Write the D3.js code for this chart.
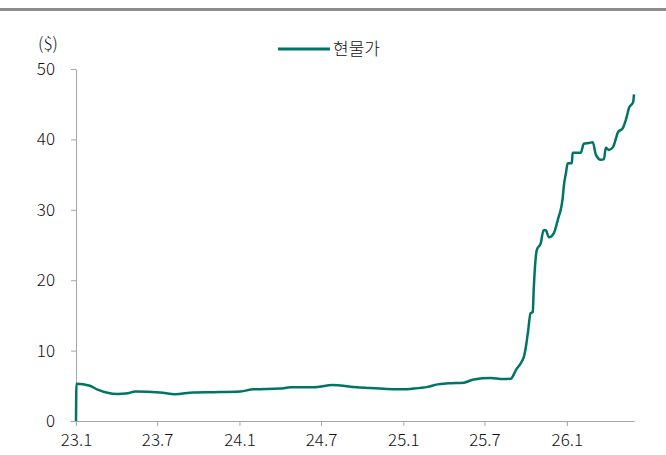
<!DOCTYPE html>
<html>
<head>
<meta charset="utf-8">
<script src="https://cdn.jsdelivr.net/npm/d3@7"></script>
<style>
  body { margin: 0; background: #fff; }
  svg text { font-family: 'Noto Sans CJK KR', 'Noto Sans', sans-serif; font-weight: 300; fill: #111; }
</style>
</head>
<body>
<svg width="666" height="455"></svg>
<script>
// spot price readings (date, $)
const dates = [
  '2023-01-01', '2023-01-02', '2023-02-01', '2023-02-17', '2023-04-03', '2023-04-27',
  '2023-05-13', '2023-07-08', '2023-08-10', '2023-09-20', '2023-11-03', '2024-01-03',
  '2024-02-01', '2024-04-01', '2024-04-24', '2024-06-14', '2024-07-27', '2024-08-20',
  '2024-09-05', '2024-10-20', '2025-01-01', '2025-01-24', '2025-02-24', '2025-03-18',
  '2025-04-12', '2025-05-16', '2025-06-07', '2025-07-15', '2025-08-11', '2025-08-29',
  '2025-09-02', '2025-09-09', '2025-09-20', '2025-09-27', '2025-10-01', '2025-10-06',
  '2025-10-12', '2025-10-17', '2025-10-19', '2025-10-21', '2025-10-26', '2025-11-04',
  '2025-11-10', '2025-11-15', '2025-11-22', '2025-12-03', '2025-12-12', '2025-12-23',
  '2025-12-25', '2025-12-30', '2026-01-03', '2026-01-12', '2026-01-14', '2026-02-01',
  '2026-02-08', '2026-02-19', '2026-02-28', '2026-03-07', '2026-03-18', '2026-03-25',
  '2026-03-29', '2026-04-05', '2026-04-14', '2026-04-21', '2026-04-25', '2026-05-06',
  '2026-05-13', '2026-05-20', '2026-05-29', '2026-05-31'
]
const prices = [
  0, 5.3, 5.0, 4.5, 3.85, 3.95,
  4.2, 4.05, 3.8, 4.05, 4.1, 4.2,
  4.5, 4.6, 4.8, 4.8, 5.1, 5.0,
  4.85, 4.7, 4.5, 4.6, 4.85, 5.2,
  5.35, 5.45, 5.9, 6.1, 5.95, 6.0,
  6.3, 7.2, 8.2, 9.1, 10.3, 12.5,
  15.3, 15.5, 18.6, 21, 24.3, 25.3,
  27.1, 27.1, 26.1, 26.7, 28.6, 31.8,
  33.2, 35.2, 36.6, 36.6, 38.1, 38.1,
  39.4, 39.5, 39.6, 37.8, 37.1, 37.2,
  38.8, 38.5, 38.9, 40.2, 41.0, 41.6,
  42.8, 44.5, 45.3, 46.4
]
const xTicks = ['2023-01-01', '2023-07-01', '2024-01-01', '2024-07-01', '2025-01-01', '2025-07-01', '2026-01-01']
const yTicks = [0, 10, 20, 30, 40, 50]
const seriesName = '현물가'
const unitLabel = '($)'

const parse = d3.timeParse('%Y-%m-%d')
const data = dates.map((d, i) => ({ date: parse(d), value: prices[i] }))

let svg = d3.select('svg')
const teal = '#007465'
const grey = '#a6a6a6'

// top rule
svg.append('rect')
  .attr('x', 0).attr('y', 8)
  .attr('width', 666).attr('height', 3)
  .attr('fill', '#8c8c8c')

const x = d3.scaleTime()
  .domain(d3.extent(data, d => d.date))
  .range([76, 634])

const y = d3.scaleLinear()
  .domain([0, 50])
  .range([421, 69])

// y axis
const yAxis = d3.axisLeft(y)
  .tickValues(yTicks)
  .tickSize(5)
  .tickPadding(16)
  .tickSizeOuter(0)

const gy = svg.append('g')
  .attr('transform', 'translate(76,0)')
  .call(yAxis)
gy.select('.domain').attr('stroke', grey)
gy.selectAll('.tick line').attr('stroke', grey)
gy.selectAll('.tick text').style('font-size', '17px').attr('fill', '#111')

// x axis
const xAxis = d3.axisBottom(x)
  .tickValues(xTicks.map(parse))
  .tickFormat(d3.timeFormat('%y.%-m'))
  .tickSize(5)
  .tickPadding(8)
  .tickSizeOuter(0)

const gx = svg.append('g')
  .attr('transform', 'translate(0,421)')
  .call(xAxis)
gx.select('.domain').attr('stroke', grey)
gx.selectAll('.tick line').attr('stroke', grey)
gx.selectAll('.tick text').style('font-size', '17px').attr('fill', '#111')

// unit label
svg.append('text')
  .attr('x', 48).attr('y', 50)
  .attr('text-anchor', 'middle')
  .style('font-size', '17px')
  .text(unitLabel)

// legend
svg.append('line')
  .attr('x1', 278).attr('x2', 330)
  .attr('y1', 49).attr('y2', 49)
  .attr('stroke', teal).attr('stroke-width', 3)
svg.append('text')
  .attr('x', 333).attr('y', 55)
  .style('font-size', '17px')
  .text(seriesName)

// price line
const line = d3.line()
  .x(d => x(d.date))
  .y(d => y(d.value))
  .curve(d3.curveMonotoneX)

svg.append('path')
  .datum(data)
  .attr('d', line)
  .attr('fill', 'none')
  .attr('stroke', teal)
  .attr('stroke-width', 2.5)
  .attr('stroke-linejoin', 'round')
</script>
</body>
</html>
